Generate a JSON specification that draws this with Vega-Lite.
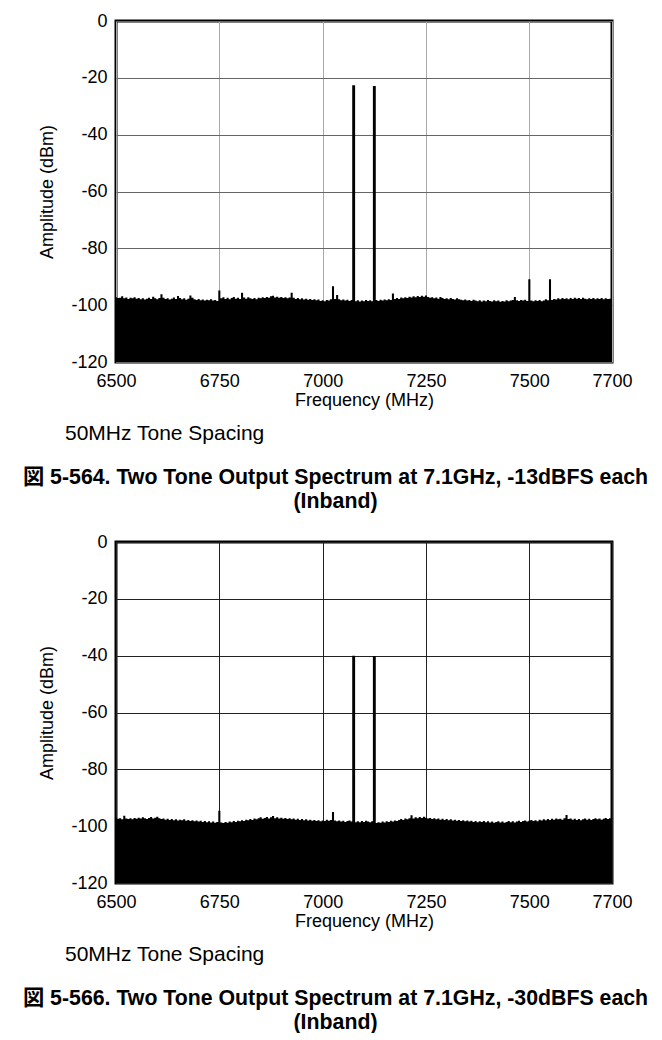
{
 "$schema": "https://vega.github.io/schema/vega-lite/v6.json",
 "padding": {"left": 22, "top": 10, "right": 0, "bottom": 0},
 "background": "white",
 "config": {
  "font": "Liberation Sans",
  "view": {"stroke": "black", "strokeWidth": 3},
  "axis": {"labelFont": "Liberation Sans", "labelFontSize": 18, "labelColor": "black", "titleFont": "Liberation Sans", "titleFontSize": 18, "titleFontWeight": "normal", "titleColor": "black", "ticks": false, "tickSize": 0, "domain": false, "gridWidth": 1, "labelFlush": false, "labelExpr": "toString(datum.value)"},
  "concat": {"spacing": 19}
 },
 "datasets": {
  "s1": [
   {"f":6500,"a":-97.2},{"f":6505,"a":-97.5},{"f":6510,"a":-97.4},{"f":6515,"a":-96.9},{"f":6520,"a":-97.6},{"f":6525,"a":-97.3},{"f":6530,"a":-97.8},{"f":6535,"a":-97.4},{"f":6540,"a":-97.6},{"f":6545,"a":-97.2},
   {"f":6550,"a":-97.7},{"f":6555,"a":-97.5},{"f":6560,"a":-97.9},{"f":6565,"a":-97.6},{"f":6570,"a":-98.0},{"f":6575,"a":-97.7},{"f":6580,"a":-97.4},{"f":6585,"a":-97.8},{"f":6590,"a":-97.0},{"f":6595,"a":-97.6},
   {"f":6600,"a":-97.9},{"f":6605,"a":-97.5},{"f":6610,"a":-96.2},{"f":6615,"a":-97.4},{"f":6620,"a":-97.8},{"f":6625,"a":-97.6},{"f":6630,"a":-98.0},{"f":6635,"a":-97.7},{"f":6640,"a":-97.3},{"f":6645,"a":-97.8},
   {"f":6650,"a":-96.8},{"f":6655,"a":-97.5},{"f":6660,"a":-97.9},{"f":6665,"a":-97.6},{"f":6670,"a":-98.1},{"f":6675,"a":-97.7},{"f":6680,"a":-96.6},{"f":6685,"a":-97.4},{"f":6690,"a":-97.9},{"f":6695,"a":-98.2},
   {"f":6700,"a":-97.8},{"f":6705,"a":-98.3},{"f":6710,"a":-98.0},{"f":6715,"a":-98.4},{"f":6720,"a":-98.1},{"f":6725,"a":-98.3},{"f":6730,"a":-97.9},{"f":6735,"a":-98.4},{"f":6740,"a":-98.2},{"f":6745,"a":-98.5},
   {"f":6750,"a":-94.8},{"f":6755,"a":-97.6},{"f":6760,"a":-97.2},{"f":6765,"a":-97.8},{"f":6770,"a":-97.4},{"f":6775,"a":-97.9},{"f":6780,"a":-97.5},{"f":6785,"a":-97.1},{"f":6790,"a":-97.7},{"f":6795,"a":-97.4},
   {"f":6800,"a":-97.8},{"f":6805,"a":-95.6},{"f":6810,"a":-97.3},{"f":6815,"a":-97.7},{"f":6820,"a":-97.2},{"f":6825,"a":-97.6},{"f":6830,"a":-97.8},{"f":6835,"a":-97.5},{"f":6840,"a":-97.9},{"f":6845,"a":-97.4},
   {"f":6850,"a":-97.6},{"f":6855,"a":-97.2},{"f":6860,"a":-97.5},{"f":6865,"a":-97.1},{"f":6870,"a":-97.4},{"f":6875,"a":-96.9},{"f":6880,"a":-96.7},{"f":6885,"a":-97.3},{"f":6890,"a":-97.0},{"f":6895,"a":-97.4},
   {"f":6900,"a":-97.1},{"f":6905,"a":-97.5},{"f":6910,"a":-97.2},{"f":6915,"a":-97.6},{"f":6920,"a":-97.3},{"f":6925,"a":-95.6},{"f":6930,"a":-97.4},{"f":6935,"a":-97.8},{"f":6940,"a":-97.5},{"f":6945,"a":-97.9},
   {"f":6950,"a":-97.6},{"f":6955,"a":-98.0},{"f":6960,"a":-97.7},{"f":6965,"a":-98.1},{"f":6970,"a":-97.8},{"f":6975,"a":-98.2},{"f":6980,"a":-97.9},{"f":6985,"a":-98.3},{"f":6990,"a":-98.0},{"f":6995,"a":-98.5},
   {"f":7000,"a":-98.3},{"f":7005,"a":-98.6},{"f":7010,"a":-98.2},{"f":7015,"a":-98.4},{"f":7020,"a":-97.9},{"f":7025,"a":-93.3},{"f":7030,"a":-97.8},{"f":7035,"a":-96.4},{"f":7040,"a":-97.9},{"f":7045,"a":-98.3},
   {"f":7050,"a":-98.0},{"f":7055,"a":-98.4},{"f":7060,"a":-98.1},{"f":7065,"a":-98.5},{"f":7070,"a":-98.2},{"f":7073,"a":-22.6},{"f":7077,"a":-22.6},{"f":7080,"a":-98.6},{"f":7085,"a":-98.3},{"f":7090,"a":-98.7},
   {"f":7095,"a":-98.4},{"f":7100,"a":-98.6},{"f":7105,"a":-98.2},{"f":7110,"a":-98.5},{"f":7115,"a":-98.3},{"f":7120,"a":-98.6},{"f":7123,"a":-22.9},{"f":7127,"a":-22.9},{"f":7130,"a":-98.2},{"f":7135,"a":-98.5},
   {"f":7140,"a":-98.1},{"f":7145,"a":-98.4},{"f":7150,"a":-98.0},{"f":7155,"a":-98.3},{"f":7160,"a":-97.9},{"f":7165,"a":-98.2},{"f":7170,"a":-95.9},{"f":7175,"a":-97.8},{"f":7180,"a":-97.5},{"f":7185,"a":-97.8},
   {"f":7190,"a":-97.3},{"f":7195,"a":-97.6},{"f":7200,"a":-97.2},{"f":7205,"a":-97.5},{"f":7210,"a":-97.0},{"f":7215,"a":-97.3},{"f":7220,"a":-96.9},{"f":7225,"a":-97.2},{"f":7230,"a":-96.8},{"f":7235,"a":-97.1},
   {"f":7240,"a":-96.7},{"f":7245,"a":-97.0},{"f":7250,"a":-96.6},{"f":7255,"a":-97.1},{"f":7260,"a":-97.4},{"f":7265,"a":-97.2},{"f":7270,"a":-97.6},{"f":7275,"a":-97.3},{"f":7280,"a":-97.7},{"f":7285,"a":-97.1},
   {"f":7290,"a":-97.5},{"f":7295,"a":-97.8},{"f":7300,"a":-97.6},{"f":7305,"a":-97.9},{"f":7310,"a":-97.5},{"f":7315,"a":-97.8},{"f":7320,"a":-98.0},{"f":7325,"a":-97.6},{"f":7330,"a":-97.9},{"f":7335,"a":-98.1},
   {"f":7340,"a":-98.3},{"f":7345,"a":-98.0},{"f":7350,"a":-98.4},{"f":7355,"a":-98.2},{"f":7360,"a":-98.5},{"f":7365,"a":-98.1},{"f":7370,"a":-98.4},{"f":7375,"a":-98.6},{"f":7380,"a":-98.3},{"f":7385,"a":-98.7},
   {"f":7390,"a":-98.4},{"f":7395,"a":-98.6},{"f":7400,"a":-98.2},{"f":7405,"a":-98.5},{"f":7410,"a":-98.7},{"f":7415,"a":-98.3},{"f":7420,"a":-98.6},{"f":7425,"a":-98.4},{"f":7430,"a":-98.8},{"f":7435,"a":-98.5},
   {"f":7440,"a":-98.7},{"f":7445,"a":-98.3},{"f":7450,"a":-98.6},{"f":7455,"a":-98.4},{"f":7460,"a":-98.2},{"f":7465,"a":-97.1},{"f":7470,"a":-98.3},{"f":7475,"a":-98.5},{"f":7480,"a":-98.2},{"f":7485,"a":-98.4},
   {"f":7490,"a":-98.1},{"f":7495,"a":-98.5},{"f":7500,"a":-90.9},{"f":7505,"a":-98.4},{"f":7510,"a":-98.6},{"f":7515,"a":-98.3},{"f":7520,"a":-98.5},{"f":7525,"a":-98.2},{"f":7530,"a":-98.6},{"f":7535,"a":-98.4},
   {"f":7540,"a":-97.9},{"f":7545,"a":-98.3},{"f":7550,"a":-90.9},{"f":7555,"a":-98.2},{"f":7560,"a":-97.8},{"f":7565,"a":-98.0},{"f":7570,"a":-97.6},{"f":7575,"a":-97.9},{"f":7580,"a":-97.5},{"f":7585,"a":-97.8},
   {"f":7590,"a":-97.6},{"f":7595,"a":-97.9},{"f":7600,"a":-97.5},{"f":7605,"a":-97.8},{"f":7610,"a":-97.4},{"f":7615,"a":-97.7},{"f":7620,"a":-97.5},{"f":7625,"a":-97.8},{"f":7630,"a":-97.4},{"f":7635,"a":-97.7},
   {"f":7640,"a":-97.9},{"f":7645,"a":-97.6},{"f":7650,"a":-97.8},{"f":7655,"a":-97.5},{"f":7660,"a":-97.9},{"f":7665,"a":-97.6},{"f":7670,"a":-97.8},{"f":7675,"a":-97.5},{"f":7680,"a":-97.9},{"f":7685,"a":-97.6},
   {"f":7690,"a":-97.8},{"f":7695,"a":-97.7},{"f":7700,"a":-97.8}
  ],
  "s2": [
   {"f":6500,"a":-97.0},{"f":6505,"a":-97.4},{"f":6510,"a":-97.2},{"f":6515,"a":-97.6},{"f":6520,"a":-96.3},{"f":6525,"a":-97.3},{"f":6530,"a":-97.5},{"f":6535,"a":-97.2},{"f":6540,"a":-97.6},{"f":6545,"a":-97.1},
   {"f":6550,"a":-97.4},{"f":6555,"a":-97.0},{"f":6560,"a":-97.3},{"f":6565,"a":-96.9},{"f":6570,"a":-97.2},{"f":6575,"a":-97.5},{"f":6580,"a":-97.1},{"f":6585,"a":-96.8},{"f":6590,"a":-97.3},{"f":6595,"a":-97.0},
   {"f":6600,"a":-96.7},{"f":6605,"a":-97.2},{"f":6610,"a":-97.5},{"f":6615,"a":-97.3},{"f":6620,"a":-97.7},{"f":6625,"a":-97.4},{"f":6630,"a":-97.8},{"f":6635,"a":-97.5},{"f":6640,"a":-97.9},{"f":6645,"a":-97.6},
   {"f":6650,"a":-98.0},{"f":6655,"a":-97.7},{"f":6660,"a":-97.9},{"f":6665,"a":-97.6},{"f":6670,"a":-98.1},{"f":6675,"a":-97.8},{"f":6680,"a":-98.2},{"f":6685,"a":-97.9},{"f":6690,"a":-98.3},{"f":6695,"a":-98.0},
   {"f":6700,"a":-98.4},{"f":6705,"a":-98.1},{"f":6710,"a":-98.5},{"f":6715,"a":-98.2},{"f":6720,"a":-98.6},{"f":6725,"a":-98.3},{"f":6730,"a":-98.7},{"f":6735,"a":-98.4},{"f":6740,"a":-98.8},{"f":6745,"a":-98.5},
   {"f":6750,"a":-94.6},{"f":6755,"a":-98.7},{"f":6760,"a":-98.9},{"f":6765,"a":-98.5},{"f":6770,"a":-98.8},{"f":6775,"a":-98.4},{"f":6780,"a":-98.6},{"f":6785,"a":-98.2},{"f":6790,"a":-98.5},{"f":6795,"a":-98.1},
   {"f":6800,"a":-98.3},{"f":6805,"a":-97.9},{"f":6810,"a":-98.2},{"f":6815,"a":-97.7},{"f":6820,"a":-97.9},{"f":6825,"a":-97.5},{"f":6830,"a":-97.8},{"f":6835,"a":-97.3},{"f":6840,"a":-97.6},{"f":6845,"a":-97.2},
   {"f":6850,"a":-96.9},{"f":6855,"a":-97.4},{"f":6860,"a":-97.1},{"f":6865,"a":-96.8},{"f":6870,"a":-97.3},{"f":6875,"a":-96.9},{"f":6880,"a":-96.4},{"f":6885,"a":-97.2},{"f":6890,"a":-96.9},{"f":6895,"a":-97.3},
   {"f":6900,"a":-97.0},{"f":6905,"a":-97.4},{"f":6910,"a":-97.1},{"f":6915,"a":-97.5},{"f":6920,"a":-97.2},{"f":6925,"a":-97.6},{"f":6930,"a":-97.3},{"f":6935,"a":-97.7},{"f":6940,"a":-97.4},{"f":6945,"a":-97.8},
   {"f":6950,"a":-97.5},{"f":6955,"a":-97.9},{"f":6960,"a":-97.6},{"f":6965,"a":-98.0},{"f":6970,"a":-97.7},{"f":6975,"a":-98.1},{"f":6980,"a":-97.8},{"f":6985,"a":-98.2},{"f":6990,"a":-97.9},{"f":6995,"a":-98.3},
   {"f":7000,"a":-98.0},{"f":7005,"a":-98.2},{"f":7010,"a":-97.7},{"f":7015,"a":-98.1},{"f":7020,"a":-97.8},{"f":7025,"a":-95.0},{"f":7030,"a":-98.0},{"f":7035,"a":-98.3},{"f":7040,"a":-98.0},{"f":7045,"a":-98.4},
   {"f":7050,"a":-98.1},{"f":7055,"a":-98.5},{"f":7060,"a":-98.2},{"f":7065,"a":-98.0},{"f":7070,"a":-98.4},{"f":7073,"a":-40.0},{"f":7077,"a":-40.0},{"f":7080,"a":-98.6},{"f":7085,"a":-98.3},{"f":7090,"a":-98.6},
   {"f":7095,"a":-98.2},{"f":7100,"a":-98.5},{"f":7105,"a":-98.1},{"f":7110,"a":-98.4},{"f":7115,"a":-98.6},{"f":7120,"a":-98.3},{"f":7123,"a":-40.2},{"f":7127,"a":-40.2},{"f":7130,"a":-98.9},{"f":7135,"a":-98.6},
   {"f":7140,"a":-98.8},{"f":7145,"a":-98.4},{"f":7150,"a":-98.7},{"f":7155,"a":-98.3},{"f":7160,"a":-98.5},{"f":7165,"a":-98.1},{"f":7170,"a":-98.4},{"f":7175,"a":-98.0},{"f":7180,"a":-98.2},{"f":7185,"a":-97.8},
   {"f":7190,"a":-97.5},{"f":7195,"a":-97.8},{"f":7200,"a":-97.3},{"f":7205,"a":-97.6},{"f":7210,"a":-97.2},{"f":7215,"a":-96.2},{"f":7220,"a":-97.3},{"f":7225,"a":-96.9},{"f":7230,"a":-97.2},{"f":7235,"a":-96.8},
   {"f":7240,"a":-97.1},{"f":7245,"a":-96.7},{"f":7250,"a":-97.0},{"f":7255,"a":-97.3},{"f":7260,"a":-97.1},{"f":7265,"a":-97.5},{"f":7270,"a":-97.2},{"f":7275,"a":-97.6},{"f":7280,"a":-97.3},{"f":7285,"a":-97.7},
   {"f":7290,"a":-97.4},{"f":7295,"a":-97.8},{"f":7300,"a":-97.5},{"f":7305,"a":-97.9},{"f":7310,"a":-97.6},{"f":7315,"a":-98.0},{"f":7320,"a":-97.7},{"f":7325,"a":-98.1},{"f":7330,"a":-97.8},{"f":7335,"a":-98.2},
   {"f":7340,"a":-97.9},{"f":7345,"a":-98.3},{"f":7350,"a":-98.0},{"f":7355,"a":-98.4},{"f":7360,"a":-98.1},{"f":7365,"a":-98.5},{"f":7370,"a":-98.2},{"f":7375,"a":-98.6},{"f":7380,"a":-98.3},{"f":7385,"a":-98.5},
   {"f":7390,"a":-98.2},{"f":7395,"a":-98.6},{"f":7400,"a":-98.3},{"f":7405,"a":-98.7},{"f":7410,"a":-98.4},{"f":7415,"a":-98.8},{"f":7420,"a":-98.5},{"f":7425,"a":-98.3},{"f":7430,"a":-98.7},{"f":7435,"a":-98.4},
   {"f":7440,"a":-98.8},{"f":7445,"a":-98.5},{"f":7450,"a":-98.2},{"f":7455,"a":-98.6},{"f":7460,"a":-98.3},{"f":7465,"a":-98.7},{"f":7470,"a":-98.4},{"f":7475,"a":-98.1},{"f":7480,"a":-98.5},{"f":7485,"a":-98.2},
   {"f":7490,"a":-98.0},{"f":7495,"a":-98.4},{"f":7500,"a":-98.1},{"f":7505,"a":-97.8},{"f":7510,"a":-98.2},{"f":7515,"a":-97.9},{"f":7520,"a":-98.3},{"f":7525,"a":-97.7},{"f":7530,"a":-98.0},{"f":7535,"a":-97.6},
   {"f":7540,"a":-97.9},{"f":7545,"a":-97.5},{"f":7550,"a":-97.8},{"f":7555,"a":-97.4},{"f":7560,"a":-97.7},{"f":7565,"a":-97.3},{"f":7570,"a":-97.6},{"f":7575,"a":-97.4},{"f":7580,"a":-97.7},{"f":7585,"a":-97.2},
   {"f":7590,"a":-96.1},{"f":7595,"a":-97.5},{"f":7600,"a":-97.3},{"f":7605,"a":-97.7},{"f":7610,"a":-97.4},{"f":7615,"a":-97.8},{"f":7620,"a":-97.5},{"f":7625,"a":-97.9},{"f":7630,"a":-97.6},{"f":7635,"a":-97.3},
   {"f":7640,"a":-97.7},{"f":7645,"a":-97.4},{"f":7650,"a":-97.8},{"f":7655,"a":-97.5},{"f":7660,"a":-97.2},{"f":7665,"a":-97.6},{"f":7670,"a":-97.3},{"f":7675,"a":-97.7},{"f":7680,"a":-97.4},{"f":7685,"a":-97.1},
   {"f":7690,"a":-97.5},{"f":7695,"a":-97.2},{"f":7700,"a":-97.4}
  ]
 },
 "vconcat": [
  {
   "title": {"text": ["図 5-564. Two Tone Output Spectrum at 7.1GHz, -13dBFS each", "(Inband)"], "orient": "bottom", "anchor": "middle", "font": "Liberation Sans, Noto Sans CJK JP", "fontSize": 21.3, "fontWeight": "bold", "lineHeight": 24, "offset": 21, "color": "black"},
   "vconcat": [
    {
     "width": 496,
     "height": 341,
     "title": {"text": "50MHz Tone Spacing", "orient": "bottom", "anchor": "start", "frame": "group", "dx": -51, "font": "Liberation Sans", "fontSize": 21, "fontWeight": "normal", "offset": 14, "color": "black"},
     "data": {"name": "s1"},
     "mark": {"type": "area", "interpolate": "step", "color": "black"},
     "encoding": {
      "x": {"field": "f", "type": "quantitative", "scale": {"domain": [6500, 7700], "nice": false, "zero": false}, "axis": {"values": [6500, 6750, 7000, 7250, 7500, 7700], "title": "Frequency (MHz)", "labelPadding": 10, "titlePadding": 1, "grid": true, "gridColor": "#aaaaaa"}},
      "y": {"field": "a", "type": "quantitative", "scale": {"domain": [-120, 0], "nice": false, "zero": false}, "axis": {"values": [-120, -100, -80, -60, -40, -20, 0], "title": "Amplitude (dBm)", "labelPadding": 9, "titlePadding": 14, "grid": true, "gridColor": "#666666"}},
      "y2": {"datum": -120}
     }
    }
   ]
  },
  {
   "title": {"text": ["図 5-566. Two Tone Output Spectrum at 7.1GHz, -30dBFS each", "(Inband)"], "orient": "bottom", "anchor": "middle", "font": "Liberation Sans, Noto Sans CJK JP", "fontSize": 21.3, "fontWeight": "bold", "lineHeight": 24, "offset": 21, "color": "black"},
   "vconcat": [
    {
     "width": 496,
     "height": 341,
     "title": {"text": "50MHz Tone Spacing", "orient": "bottom", "anchor": "start", "frame": "group", "dx": -51, "font": "Liberation Sans", "fontSize": 21, "fontWeight": "normal", "offset": 14, "color": "black"},
     "data": {"name": "s2"},
     "mark": {"type": "area", "interpolate": "step", "color": "black"},
     "encoding": {
      "x": {"field": "f", "type": "quantitative", "scale": {"domain": [6500, 7700], "nice": false, "zero": false}, "axis": {"values": [6500, 6750, 7000, 7250, 7500, 7700], "title": "Frequency (MHz)", "labelPadding": 10, "titlePadding": 1, "grid": true, "gridColor": "#222222"}},
      "y": {"field": "a", "type": "quantitative", "scale": {"domain": [-120, 0], "nice": false, "zero": false}, "axis": {"values": [-120, -100, -80, -60, -40, -20, 0], "title": "Amplitude (dBm)", "labelPadding": 9, "titlePadding": 14, "grid": true, "gridColor": "#222222"}},
      "y2": {"datum": -120}
     }
    }
   ]
  }
 ]
}
